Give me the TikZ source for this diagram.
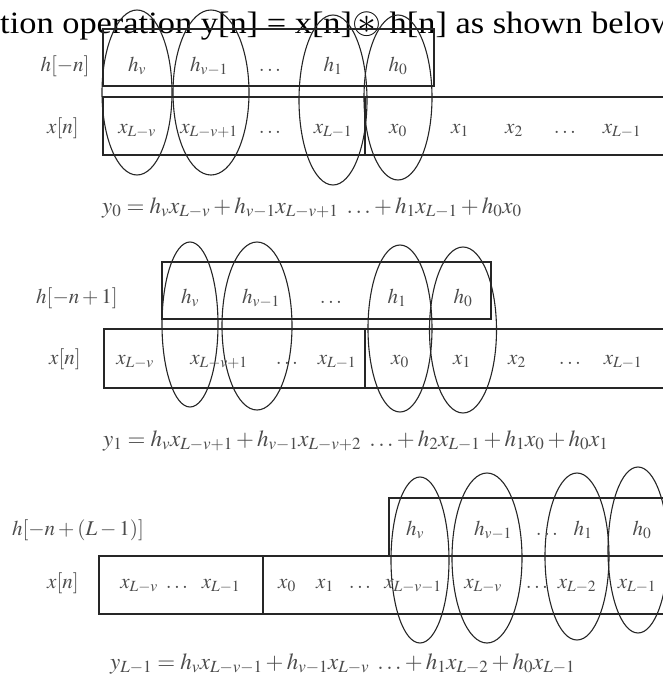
\documentclass[tikz,border=0pt]{standalone}
\usepackage{amssymb}
\usepackage{mathptmx}
\usepackage{fontspec}
\setmainfont{Liberation Serif}
\newfontfamily\headfont[FakeStretch=1.11]{Liberation Serif}
\usetikzlibrary{positioning}

\begin{document}
\begin{tikzpicture}[x=1pt, y=-1pt,
    box/.style={draw=black!85, line width=1.3pt},
    oval/.style={draw=black!85, line width=1.1pt},
    lbl/.style={inner sep=0pt, anchor=base, text=black!70,
                font=\fontsize{21}{21}\selectfont},
    eqn/.style={inner sep=0pt, anchor=base west, text=black!70,
                font=\fontsize{23}{23}\selectfont}
]
\useasboundingbox (0,0) rectangle (662,686);

%% ---- header line (cut off at the page edges) ----
\node [anchor=base west, inner sep=0pt, font=\headfont\fontsize{31}{31}\selectfont]
      (head) at (0,33) {tion operation y[n] = x[n]\scalebox{1.2}{$\circledast$} h[n] as shown below};

%% ---- PANEL 1: h[-n] over x[n] ----
\draw [box] (103,29) rectangle (434,86);
\draw [box] (103,97) rectangle (670,155);
\draw [box] (365,97) -- (365,155);

\draw [oval] (137,92.5) ellipse [x radius=35, y radius=82.5];
\draw [oval] (211,92.5) ellipse [x radius=38, y radius=82.5];
\draw [oval] (333,100)  ellipse [x radius=34, y radius=85];
\draw [oval] (398,97.5) ellipse [x radius=34, y radius=82.5];

\node [lbl] (hlab1) at (65,71)  {$h[-n]$};
\node [lbl] (h1v)   at (137,71) {$h_v$};
\node [lbl] (h1v1)  at (209,71) {$h_{v-1}$};
\node [lbl] (h1dt)  at (270,71) {$\dots$};
\node [lbl] (h1one) at (333,71) {$h_1$};
\node [lbl] (h1nul) at (398,71) {$h_0$};

\node [lbl] (xlab1) at (63,133)  {$x[n]$};
\node [lbl] (x1a)   at (137,133) {$x_{L-v}$};
\node [lbl] (x1b)   at (209,133) {$x_{L-v+1}$};
\node [lbl] (x1c)   at (270,133) {$\dots$};
\node [lbl] (x1d)   at (333,133) {$x_{L-1}$};
\node [lbl] (x1e)   at (398,133) {$x_0$};
\node [lbl] (x1f)   at (460,133) {$x_1$};
\node [lbl] (x1g)   at (514,133) {$x_2$};
\node [lbl] (x1h)   at (565,133) {$\dots$};
\node [lbl] (x1i)   at (622,133) {$x_{L-1}$};

\node [eqn] (yzero) at (102,213)
      {$y_0 = h_v x_{L-v} + h_{v-1}x_{L-v+1}\ \dots + h_1x_{L-1} + h_0x_0$};

%% ---- PANEL 2: h[-n+1] over x[n] ----
\draw [box] (162,262) rectangle (491,319);
\draw [box] (104,329) rectangle (670,388);
\draw [box] (365,329) -- (365,388);

\draw [oval] (190,324.5) ellipse [x radius=28,   y radius=82.5];
\draw [oval] (257,326)   ellipse [x radius=35,   y radius=84];
\draw [oval] (400,328.5) ellipse [x radius=32,   y radius=83.5];
\draw [oval] (463,330)   ellipse [x radius=33.5, y radius=83];

\node [lbl] (hlab2) at (77,303)  {$h[-n+1]$};
\node [lbl] (h2v)   at (190,303) {$h_v$};
\node [lbl] (h2v1)  at (261,303) {$h_{v-1}$};
\node [lbl] (h2dt)  at (331,303) {$\dots$};
\node [lbl] (h2one) at (397,303) {$h_1$};
\node [lbl] (h2nul) at (463,303) {$h_0$};

\node [lbl] (xlab2) at (65,364)  {$x[n]$};
\node [lbl] (x2a)   at (135,364) {$x_{L-v}$};
\node [lbl] (x2b)   at (219,364) {$x_{L-v+1}$};
\node [lbl] (x2c)   at (287,364) {$\dots$};
\node [lbl] (x2d)   at (337,364) {$x_{L-1}$};
\node [lbl] (x2e)   at (400,364) {$x_0$};
\node [lbl] (x2f)   at (462,364) {$x_1$};
\node [lbl] (x2g)   at (517,364) {$x_2$};
\node [lbl] (x2h)   at (570,364) {$\dots$};
\node [lbl] (x2i)   at (623,364) {$x_{L-1}$};

\node [eqn] (yone) at (103,446)
      {$y_1 = h_v x_{L-v+1} + h_{v-1}x_{L-v+2}\ \dots + h_2x_{L-1} + h_1x_0 + h_0x_1$};

%% ---- PANEL 3: h[-n+(L-1)] over x[n] ----
\draw [box] (389,498) rectangle (670,556);
\draw [box] (99,556) rectangle (670,614);
\draw [box] (263,556) -- (263,614);

\draw [oval] (420,560)   ellipse [x radius=29, y radius=83];
\draw [oval] (487,558)   ellipse [x radius=35, y radius=85];
\draw [oval] (577,556.5) ellipse [x radius=32, y radius=83.5];
\draw [oval] (638,550)   ellipse [x radius=30, y radius=83];

\node [lbl] (hlab3) at (78,535)  {$h[-n+(L-1)]$};
\node [lbl] (h3v)   at (415,535) {$h_v$};
\node [lbl] (h3v1)  at (493,535) {$h_{v-1}$};
\node [lbl] (h3dt)  at (547,535) {$\dots$};
\node [lbl] (h3one) at (583,535) {$h_1$};
\node [lbl] (h3nul) at (642,535) {$h_0$};

\node [lbl] (xlab3) at (63,588)  {$x[n]$};
\node [lbl] (x3a)   at (139,588) {$x_{L-v}$};
\node [lbl] (x3b)   at (177,588) {$\dots$};
\node [lbl] (x3c)   at (221,588) {$x_{L-1}$};
\node [lbl] (x3d)   at (287,588) {$x_0$};
\node [lbl] (x3e)   at (325,588) {$x_1$};
\node [lbl] (x3f)   at (360,588) {$\dots$};
\node [lbl] (x3g)   at (413,588) {$x_{L-v-1}$};
\node [lbl] (x3h)   at (483,588) {$x_{L-v}$};
\node [lbl] (x3i)   at (537,588) {$\dots$};
\node [lbl] (x3j)   at (577,588) {$x_{L-2}$};
\node [lbl] (x3k)   at (637,588) {$x_{L-1}$};

\node [eqn] (ylast) at (110,669)
      {$y_{L-1} = h_v x_{L-v-1} + h_{v-1}x_{L-v}\ \dots + h_1x_{L-2} + h_0x_{L-1}$};

\end{tikzpicture}
\end{document}
